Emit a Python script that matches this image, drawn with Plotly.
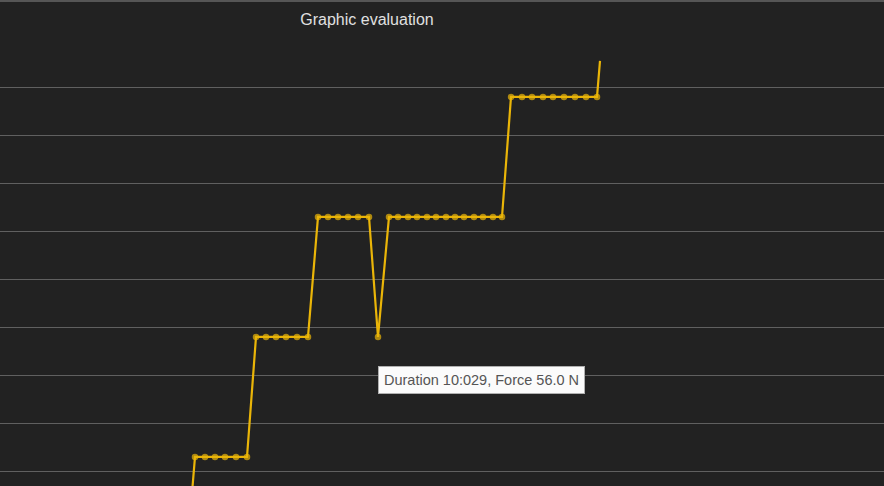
import plotly.graph_objects as go

# duration (s) and force (N) samples
duration_s = [
    8.099,
    8.199, 8.299, 8.399, 8.499, 8.609, 8.719,
    8.809, 8.909, 9.009, 9.109, 9.219, 9.329,
    9.429, 9.529, 9.629, 9.729, 9.829, 9.939,
    10.029,
    10.139, 10.229, 10.329, 10.419, 10.519, 10.609, 10.709,
    10.799, 10.889, 10.989, 11.079, 11.179, 11.269,
    11.359, 11.469, 11.569, 11.679, 11.779, 11.889, 11.999, 12.109, 12.219,
    12.249,
]
force_n = [
    46.0,
    51.0, 51.0, 51.0, 51.0, 51.0, 51.0,
    56.0, 56.0, 56.0, 56.0, 56.0, 56.0,
    61.0, 61.0, 61.0, 61.0, 61.0, 61.0,
    56.0,
    61.0, 61.0, 61.0, 61.0, 61.0, 61.0, 61.0,
    61.0, 61.0, 61.0, 61.0, 61.0, 61.0,
    66.0, 66.0, 66.0, 66.0, 66.0, 66.0, 66.0, 66.0, 66.0,
    67.5,
]
hover_time = "10:029"
hover_force = 56.0

bg = "#222222"
gold = "#eab508"

# last sample is drawn as line end only
sizes = [6.5] * (len(force_n) - 1) + [0]

fig = go.Figure(
    data=[go.Scatter(
        x=duration_s,
        y=force_n,
        mode="lines+markers",
        line=dict(color=gold, width=2.2),
        marker=dict(color=gold, size=sizes, line=dict(width=0)),
        hoverinfo="skip",
    )]
)

fig.update_layout(
    width=884,
    height=486,
    paper_bgcolor=bg,
    plot_bgcolor=bg,
    margin=dict(l=0, r=0, t=48, b=0),
    showlegend=False,
    title=dict(
        text="Graphic evaluation",
        x=367 / 884,
        xref="container",
        xanchor="center",
        y=1 - 19 / 486,
        yref="container",
        yanchor="middle",
        font=dict(family="Liberation Sans, Arial", size=16, color="#e0e0e0"),
    ),
    xaxis=dict(
        range=[6.249, 15.089],
        showgrid=False,
        zeroline=False,
        showticklabels=False,
        showline=False,
    ),
    yaxis=dict(
        range=[49.79, 68.04],
        tick0=0.375,
        dtick=2,
        showgrid=True,
        gridcolor="#606060",
        gridwidth=1,
        zeroline=False,
        showticklabels=False,
        showline=False,
    ),
    shapes=[dict(
        type="line", xref="paper", yref="paper",
        x0=0, x1=1, y0=1 + 47 / 438, y1=1 + 47 / 438,
        line=dict(color="#8a8a8a", width=1),
    )],
)

fig.add_annotation(
    x=duration_s[force_n.index(hover_force, 13)],
    y=hover_force,
    text=f"Duration {hover_time}, Force {hover_force:.1f} N",
    showarrow=False,
    xanchor="left",
    yanchor="top",
    yshift=-29,
    bgcolor="#fbfbfb",
    bordercolor="#b0b0b0",
    borderwidth=1,
    borderpad=5,
    font=dict(family="Liberation Sans, Arial", size=14.5, color="#555555"),
)

fig.write_html(
    "out.html",
    config={"displayModeBar": False, "staticPlot": True},
    post_script="document.body.style.margin='0';document.body.style.background='#222222';",
)
